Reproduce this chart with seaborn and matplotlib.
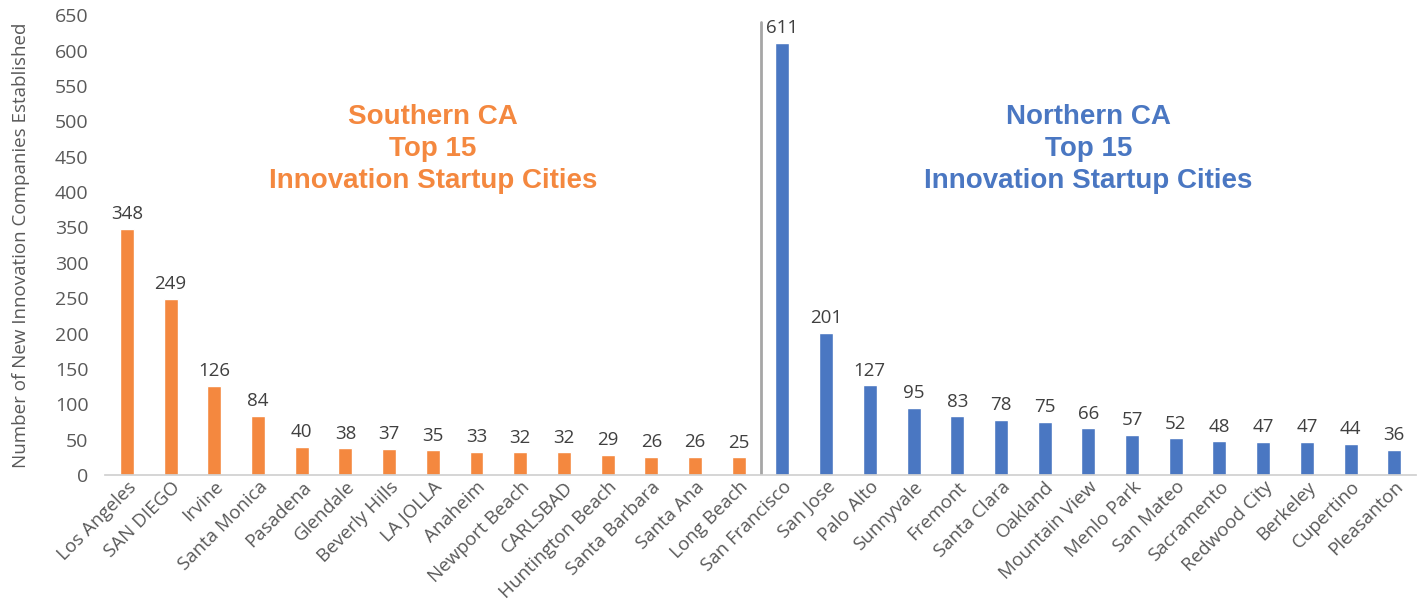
import matplotlib
matplotlib.use("Agg")
import matplotlib.pyplot as plt
import seaborn as sns
import pandas as pd

# dados
cidades_sul = ["Los Angeles", "SAN DIEGO", "Irvine", "Santa Monica", "Pasadena",
               "Glendale", "Beverly Hills", "LA JOLLA", "Anaheim", "Newport Beach",
               "CARLSBAD", "Huntington Beach", "Santa Barbara", "Santa Ana", "Long Beach"]
valores_sul = [348, 249, 126, 84, 40, 38, 37, 35, 33, 32, 32, 29, 26, 26, 25]

cidades_norte = ["San Francisco", "San Jose", "Palo Alto", "Sunnyvale", "Fremont",
                 "Santa Clara", "Oakland", "Mountain View", "Menlo Park", "San Mateo",
                 "Sacramento", "Redwood City", "Berkeley", "Cupertino", "Pleasanton"]
valores_norte = [611, 201, 127, 95, 83, 78, 75, 66, 57, 52, 48, 47, 47, 44, 36]

COR_SUL = "#F4883F"
COR_NORTE = "#4A77C2"
COR_TEXTO = "#595959"

df = pd.DataFrame({
    "cidade": cidades_sul + cidades_norte,
    "valor": valores_sul + valores_norte,
    "regiao": ["Sul"] * len(cidades_sul) + ["Norte"] * len(cidades_norte),
})

sns.set_theme(style="white")
plt.rcParams["font.family"] = ["Open Sans", "DejaVu Sans"]

fig = plt.figure(figsize=(14.19, 6.09), dpi=100)
ax = fig.add_axes([0.074, 0.22, 0.924, 0.755])

sns.barplot(data=df, x="cidade", y="valor", hue="regiao",
            palette={"Sul": COR_SUL, "Norte": COR_NORTE}, saturation=1,
            width=0.32, dodge=False, legend=False, ax=ax)

for cont in ax.containers:
    ax.bar_label(cont, padding=4, fontsize=13.5, color="#404040")

ax.set_ylim(0, 650)
ax.set_yticks(range(0, 651, 50))
ax.set_xlim(-0.5, len(df) - 0.5)
ax.tick_params(axis="y", labelsize=14, colors=COR_TEXTO, length=0, pad=12)
ax.tick_params(axis="x", labelsize=13.5, colors=COR_TEXTO, length=0, pad=2)
plt.setp(ax.get_xticklabels(), rotation=45, ha="right", rotation_mode="anchor")
ax.set_xlabel("")
ax.set_ylabel("Number of New Innovation Companies Established",
              fontsize=13.5, color=COR_TEXTO, labelpad=18)

for lado in ["top", "right", "left"]:
    ax.spines[lado].set_visible(False)
ax.spines["bottom"].set_color("#d0d0d0")

# linha divisória entre as regiões
ax.axvline(len(cidades_sul) - 0.5, ymin=0, ymax=0.985, color="#a6a6a6", lw=2)

ax.text(7.0, 524, "Southern CA\nTop 15\nInnovation Startup Cities", ha="center", va="top",
        fontsize=20, fontweight="bold", color=COR_SUL, linespacing=1.3,
        family=["Liberation Sans", "DejaVu Sans"])
ax.text(22.0, 524, "Northern CA\nTop 15\nInnovation Startup Cities", ha="center", va="top",
        fontsize=20, fontweight="bold", color=COR_NORTE, linespacing=1.3,
        family=["Liberation Sans", "DejaVu Sans"])

fig.savefig("out.png", dpi=100)
